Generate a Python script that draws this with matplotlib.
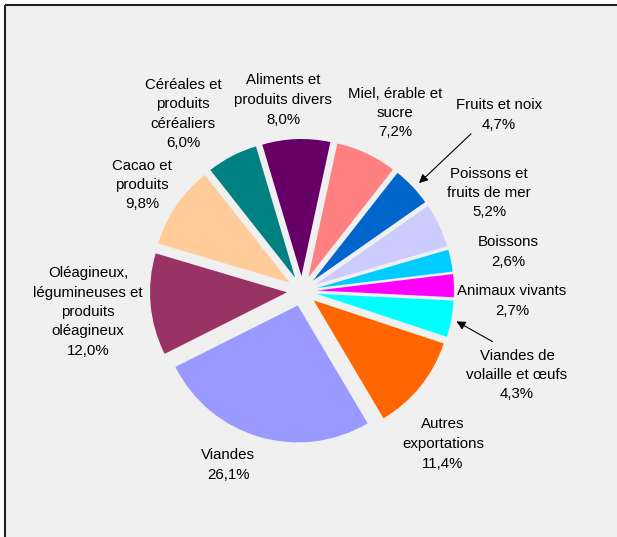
import matplotlib.pyplot as plt
from matplotlib.patches import Rectangle

plt.rcParams['font.family'] = ['Liberation Sans', 'DejaVu Sans']

# parts des exportations, dans le sens horaire depuis le haut
categories = ['Miel, érable et\nsucre', 'Fruits et noix', 'Poissons et\nfruits de mer',
              'Boissons', 'Animaux vivants', 'Viandes de\nvolaille et œufs',
              'Autres\nexportations', 'Viandes', 'Oléagineux,\nlégumineuses et\nproduits\noléagineux',
              'Cacao et\nproduits', 'Céréales et\nproduits\ncéréaliers', 'Aliments et\nproduits divers']
values = [7.2, 4.7, 5.2, 2.6, 2.7, 4.3, 11.4, 26.1, 12.0, 9.8, 6.0, 8.0]
colors = ['#FF8080', '#0066CC', '#CCCCFF', '#00CCFF', '#FF00FF', '#00FFFF',
          '#FF6600', '#9999FF', '#993366', '#FFCC99', '#008080', '#660066']

# positions des étiquettes (pixels image)
label_pos = [(395, 113), (499, 115), (489, 193), (508, 252), (512, 301), (517, 375),
             (443, 444), (228, 465), (88, 312), (142, 185), (183, 114), (283, 100)]

W, H = 617, 537
fig = plt.figure(figsize=(W / 100, H / 100), dpi=100, facecolor='white')
ax = fig.add_axes([0, 0, 1, 1])
ax.patch.set_alpha(0)

# fond gris + cadre (gauche et haut seulement)
ax.add_patch(Rectangle((5, -5), W, H, facecolor='#F0F0F0', edgecolor='none', zorder=-2))
ax.plot([5, 5], [-5, H - 5], color='#202020', lw=1.5, zorder=-1, solid_capstyle='butt')
ax.plot([5, W + 5], [H - 5, H - 5], color='#202020', lw=1.5, zorder=-1, solid_capstyle='butt')

cx, cy, r = 302, H - 291, 137
ax.pie(values, colors=colors, startangle=77.8, counterclock=False,
       center=(cx, cy), radius=r, explode=[15] * len(values),
       wedgeprops=dict(linewidth=0))
ax.set_xlim(0, W)
ax.set_ylim(0, H)
ax.set_aspect('equal')
ax.axis('off')

for name, v, (x, y) in zip(categories, values, label_pos):
    txt = f'{name}\n{v:.1f}%'.replace('.', ',')
    ax.text(x, H - y, txt, ha='center', va='center', fontsize=10.8,
            linespacing=1.5, color='black')

arrow = dict(arrowstyle='-|>', color='black', lw=0.8, mutation_scale=13)
ax.annotate('', xy=(417, H - 185), xytext=(473, H - 132), arrowprops=arrow)
ax.annotate('', xy=(454, H - 320), xytext=(495, H - 343), arrowprops=arrow)

fig.savefig('out.png', dpi=100, facecolor=fig.get_facecolor())
